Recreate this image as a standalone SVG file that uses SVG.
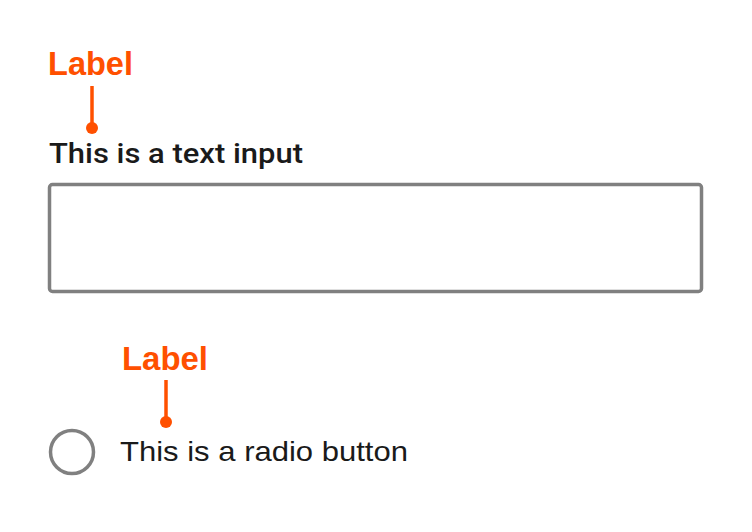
<svg xmlns="http://www.w3.org/2000/svg" width="752" height="532" viewBox="0 0 752 532">
<style>
.tag{font-family:"Liberation Sans",Arial,sans-serif;font-weight:bold;font-size:33px;fill:#ff5000}
.txt{font-family:"Liberation Sans",Arial,sans-serif;font-size:28px;fill:#1a1a1a}
.med{font-family:Roboto,"Liberation Sans",Arial,sans-serif;font-weight:500;font-size:28px;fill:#1a1a1a}
.lead{stroke:#ff5000;stroke-width:3.5;fill:none}
.dot{fill:#ff5000}
.ctl{fill:#fff;stroke:#808080;stroke-width:3.5}
</style>
<rect width="752" height="532" fill="#fff"/>
<g id="text-input">
<text class="med" x="49" y="163" textLength="254" lengthAdjust="spacingAndGlyphs">This is a text input</text>
<rect class="ctl" x="49.5" y="184.5" width="652" height="107" rx="3"/>
</g>
<g id="label-1">
<text class="tag" x="48" y="75" textLength="85" lengthAdjust="spacingAndGlyphs">Label</text>
</g>
<g id="radio-button">
<circle class="ctl" cx="72" cy="452" r="21.5"/>
<text class="txt" x="120" y="461" textLength="288" lengthAdjust="spacingAndGlyphs">This is a radio button</text>
</g>
<g id="label-2">
<text class="tag" x="122" y="370" textLength="86" lengthAdjust="spacingAndGlyphs">Label</text>
</g>
<g id="connectors">
<line class="lead" x1="92" y1="86" x2="92" y2="127"/>
<circle class="dot" cx="92" cy="128" r="6"/>
<line class="lead" x1="166" y1="380" x2="166" y2="421"/>
<circle class="dot" cx="166" cy="422" r="6"/>
</g>
</svg>
